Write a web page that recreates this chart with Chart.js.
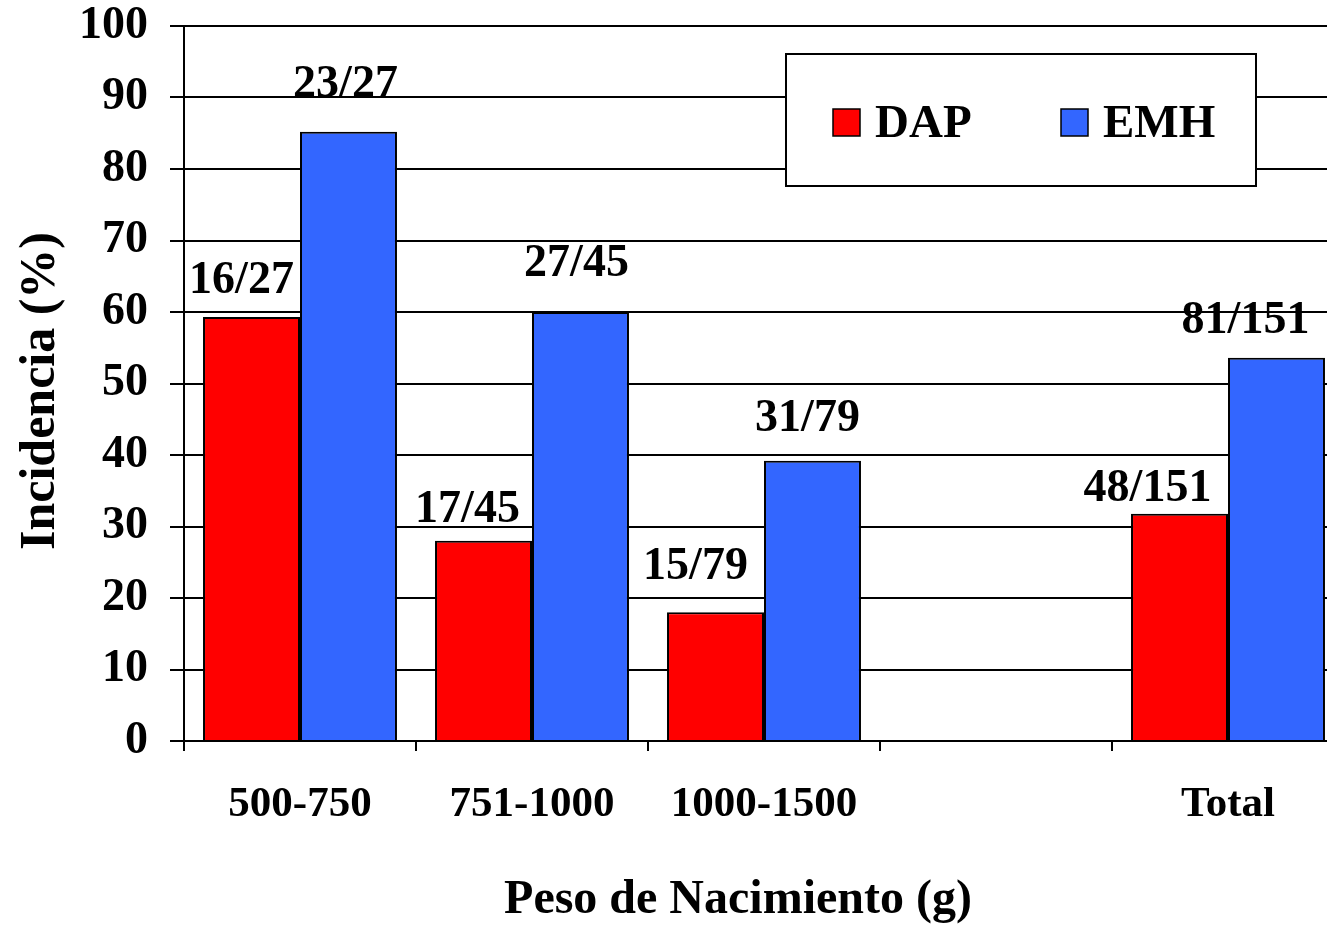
<!DOCTYPE html>
<html>
<head>
<meta charset="utf-8">
<title>Incidencia por peso de nacimiento</title>
<script src="https://cdn.jsdelivr.net/npm/chart.js@4/dist/chart.umd.min.js"></script>
<style>
  html, body { margin: 0; padding: 0; background: #fff; overflow: hidden; }
  canvas { display: block; }
</style>
</head>
<body>
<canvas id="grafico" width="1360" height="937"></canvas>
<script>
// categorias de peso (g); la cuarta queda vacia antes del total
var categorias = ['500-750', '751-1000', '1000-1500', '', 'Total'];

var dap = [59.3, 28, 18, null, 31.8];
var emh = [85.2, 60, 39.2, null, 53.6];

// casos / total de cada grupo
var dapEtiquetas = ['16/27', '17/45', '15/79', '', '48/151'];
var emhEtiquetas = ['23/27', '27/45', '31/79', '', '81/151'];

var yTicks = [0, 10, 20, 30, 40, 50, 60, 70, 80, 90, 100];

var FUENTE = '"Liberation Serif", "Times New Roman", serif';

// desplazamiento de cada rotulo respecto a su barra: [dx, separacion]
var ajusteDap = [[-10, 24], [-16, 19], [-20, 33], null, [-32, 13]];
var ajusteEmh = [[-3, 35], [-4, 36], [-5, 30], null, [-31, 25]];

var rotulos = {
  id: 'rotulos',
  afterDatasetsDraw: function (chart) {
    var ctx = chart.ctx;
    var textos = [dapEtiquetas, emhEtiquetas];
    var ajustes = [ajusteDap, ajusteEmh];
    ctx.save();
    ctx.font = 'bold 46px ' + FUENTE;
    ctx.fillStyle = '#000';
    ctx.textAlign = 'center';
    ctx.textBaseline = 'alphabetic';
    chart.data.datasets.forEach(function (ds, i) {
      var meta = chart.getDatasetMeta(i);
      meta.data.forEach(function (bar, j) {
        if (ds.data[j] == null || !textos[i][j]) return;
        var a = ajustes[i][j];
        ctx.fillText(textos[i][j], bar.x + a[0], bar.y - a[1]);
      });
    });
    ctx.restore();
  }
};

// leyenda en recuadro blanco dentro del area del grafico
var leyenda = {
  id: 'leyendaCaja',
  afterDatasetsDraw: function (chart) {
    var ctx = chart.ctx;
    ctx.save();
    ctx.fillStyle = '#fff';
    ctx.fillRect(786, 54, 470, 132);
    ctx.strokeStyle = '#000';
    ctx.lineWidth = 2;
    ctx.strokeRect(786, 54, 470, 132);
    var xs = [833, 1061];
    ctx.font = 'bold 47px ' + FUENTE;
    ctx.textBaseline = 'alphabetic';
    ctx.textAlign = 'left';
    chart.data.datasets.forEach(function (ds, i) {
      ctx.fillStyle = ds.backgroundColor;
      ctx.fillRect(xs[i], 109, 27, 27);
      ctx.lineWidth = 1.5;
      ctx.strokeRect(xs[i], 109, 27, 27);
      ctx.fillStyle = '#000';
      ctx.fillText(ds.label, xs[i] + 42, 137);
    });
    ctx.restore();
  }
};

var titulos = {
  id: 'titulos',
  afterDraw: function (chart) {
    var ctx = chart.ctx;
    ctx.save();
    ctx.fillStyle = '#000';
    ctx.textAlign = 'center';
    ctx.textBaseline = 'alphabetic';
    ctx.font = 'bold 48px ' + FUENTE;
    ctx.fillText('Peso de Nacimiento (g)', 738, 913);
    ctx.translate(54, 391);
    ctx.rotate(-Math.PI / 2);
    ctx.font = 'bold 50px ' + FUENTE;
    ctx.fillText('Incidencia (%)', 0, 0);
    ctx.restore();
  }
};

new Chart(document.getElementById('grafico'), {
  type: 'bar',
  data: {
    labels: categorias,
    datasets: [
      {
        label: 'DAP',
        data: dap,
        backgroundColor: '#ff0000',
        borderColor: '#000',
        borderWidth: 2,
        categoryPercentage: 0.836,
        barPercentage: 1
      },
      {
        label: 'EMH',
        data: emh,
        backgroundColor: '#3366ff',
        borderColor: '#000',
        borderWidth: 2,
        categoryPercentage: 0.836,
        barPercentage: 1
      }
    ]
  },
  options: {
    responsive: false,
    animation: false,
    devicePixelRatio: 1,
    layout: { padding: { left: 0, top: 26, right: 16, bottom: 0 } },
    plugins: {
      legend: { display: false },
      tooltip: { enabled: false }
    },
    scales: {
      x: {
        afterFit: function (s) {
          s.height = 196;
          s.paddingLeft = 0;
          s.paddingRight = 0;
        },
        grid: {
          offset: true,
          drawOnChartArea: false,
          drawTicks: true,
          tickLength: 10,
          color: '#000',
          lineWidth: 2
        },
        border: { display: true, color: '#000', width: 2 },
        ticks: {
          color: '#000',
          padding: 28,
          maxRotation: 0,
          autoSkip: false,
          font: { family: FUENTE, size: 43, weight: 'bold' }
        }
      },
      y: {
        min: 0,
        max: 100,
        afterFit: function (s) {
          s.width = 184;
          s.paddingTop = 0;
          s.paddingBottom = 0;
        },
        afterBuildTicks: function (s) {
          s.ticks = yTicks.map(function (v) { return { value: v }; });
        },
        grid: {
          drawTicks: true,
          tickLength: 14,
          color: '#000',
          lineWidth: 2
        },
        border: { display: true, color: '#000', width: 2 },
        ticks: {
          color: '#000',
          padding: 22,
          font: { family: FUENTE, size: 46, weight: 'bold', lineHeight: 1 }
        }
      }
    }
  },
  plugins: [rotulos, leyenda, titulos]
});
</script>
</body>
</html>
